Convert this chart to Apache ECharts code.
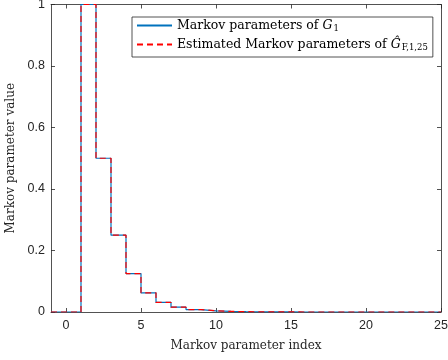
<!DOCTYPE html>
<html>
<head>
<meta charset="utf-8">
<script src="https://cdn.jsdelivr.net/npm/echarts@6/dist/echarts.min.js"></script>
<style>html,body{margin:0;padding:0;background:#fff}#c{width:448px;height:360px}</style>
</head>
<body>
<div id="c"></div>
<script>
// Markov parameter index
var indices = [-1,0,1,2,3,4,5,6,7,8,9,10,11,12,13,14,15,16,17,18,19,20,21,22,23,24,25];
// Markov parameters of G1
var trueValues = [0,0,1,0.5,0.25,0.125,0.0625,0.03125,0.015625,0.0078125,0.00390625,0.001953125,0.0009765625,0.00048828125,0.000244140625,0.0001220703125,0.00006103515625,0.000030517578125,0.0000152587890625,0.00000762939453125,0.000003814697265625,0.0000019073486328125,0.00000095367431640625,0.000000476837158203125,0.0000002384185791015625,0.00000011920928955078125,0.000000059604644775390625];
// Estimated Markov parameters
var estValues = [0,0,1,0.5,0.25,0.125,0.0625,0.03125,0.015625,0.0078125,0.00390625,0.001953125,0.0009765625,0.00048828125,0.000244140625,0.0001220703125,0.00006103515625,0.000030517578125,0.0000152587890625,0.00000762939453125,0.000003814697265625,0.0000019073486328125,0.00000095367431640625,0.000000476837158203125,0.0000002384185791015625,0.00000011920928955078125,0.000000059604644775390625];
var xTicks = [0,5,10,15,20,25];

var axisCol = '#262626';
var serif = 'DejaVu Serif';
var sans = 'Liberation Sans';

function pairs(xs, ys){ return xs.map(function(x,i){return [x, ys[i]];}); }

var chart = echarts.init(document.getElementById('c'), null, {renderer:'canvas'});
chart.setOption({
  animation: false,
  backgroundColor: '#fff',
  grid: {left: 51, right: 7, top: 4.5, bottom: 48, containLabel: false, outerBoundsMode: 'none'},
  xAxis: [{
    type: 'value', min: -1, max: 25, position: 'bottom',
    name: 'Markov parameter index', nameLocation: 'middle', nameGap: 28,
    nameTextStyle: {fontFamily: serif, fontSize: 12, color: axisCol},
    axisLine: {show: true, onZero: false, lineStyle: {color: axisCol, width: 0.8}},
    axisTick: {show: true, inside: true, length: 4, customValues: xTicks, lineStyle: {color: axisCol, width: 0.8}},
    axisLabel: {customValues: xTicks, margin: 7, fontFamily: sans, fontSize: 12.5, color: axisCol},
    splitLine: {show: false}
  }, {
    type: 'value', min: -1, max: 25, position: 'top',
    axisLine: {show: true, onZero: false, lineStyle: {color: axisCol, width: 0.8}},
    axisTick: {show: true, inside: true, length: 4, customValues: xTicks, lineStyle: {color: axisCol, width: 0.8}},
    axisLabel: {show: false, customValues: xTicks},
    splitLine: {show: false}
  }],
  yAxis: [{
    type: 'value', min: 0, max: 1, interval: 0.2, position: 'left',
    name: 'Markov parameter value', nameLocation: 'middle', nameGap: 32,
    nameTextStyle: {fontFamily: serif, fontSize: 12, color: axisCol},
    axisLine: {show: true, onZero: false, lineStyle: {color: axisCol, width: 0.8}},
    axisTick: {show: true, inside: true, length: 4, lineStyle: {color: axisCol, width: 0.8}},
    axisLabel: {margin: 6, fontFamily: sans, fontSize: 12.5, color: axisCol},
    splitLine: {show: false}
  }, {
    type: 'value', min: 0, max: 1, interval: 0.2, position: 'right',
    axisLine: {show: true, onZero: false, lineStyle: {color: axisCol, width: 0.8}},
    axisTick: {show: true, inside: true, length: 4, lineStyle: {color: axisCol, width: 0.8}},
    axisLabel: {show: false},
    splitLine: {show: false}
  }],
  legend: {
    orient: 'vertical', left: 132, top: 17,
    padding: [2, 5, 5, 4], itemGap: 5, itemWidth: 35, itemHeight: 14,
    backgroundColor: '#fff', borderColor: axisCol, borderWidth: 0.8,
    itemStyle: {opacity: 0},
    data: ['true', 'est'],
    formatter: function(name){
      if (name === 'true') return '{r|Markov parameters of }{i|G}{s|1}';
      return '{r|Estimated Markov parameters of }{i|Ĝ}{s|F,1,25}';
    },
    textStyle: {
      color: '#000',
      rich: {
        r: {fontFamily: serif, fontSize: 12.5, color: '#000'},
        i: {fontFamily: serif, fontSize: 12.5, fontStyle: 'italic', color: '#000'},
        s: {fontFamily: serif, fontSize: 8.5, color: '#000', padding: [6, 0, 0, 1]}
      }
    }
  },
  series: [{
    name: 'true', type: 'line', step: 'end', showSymbol: false, symbol: 'none',
    xAxisIndex: 0, yAxisIndex: 0,
    data: pairs(indices, trueValues),
    lineStyle: {color: '#0072BD', width: 1.2},
    itemStyle: {color: '#0072BD'}
  }, {
    name: 'est', type: 'line', step: 'end', showSymbol: false, symbol: 'none',
    xAxisIndex: 0, yAxisIndex: 0,
    data: pairs(indices, estValues),
    lineStyle: {color: '#FF0000', width: 1.2, type: [6, 4]},
    itemStyle: {color: '#FF0000'}
  }]
});
</script>
</body>
</html>
